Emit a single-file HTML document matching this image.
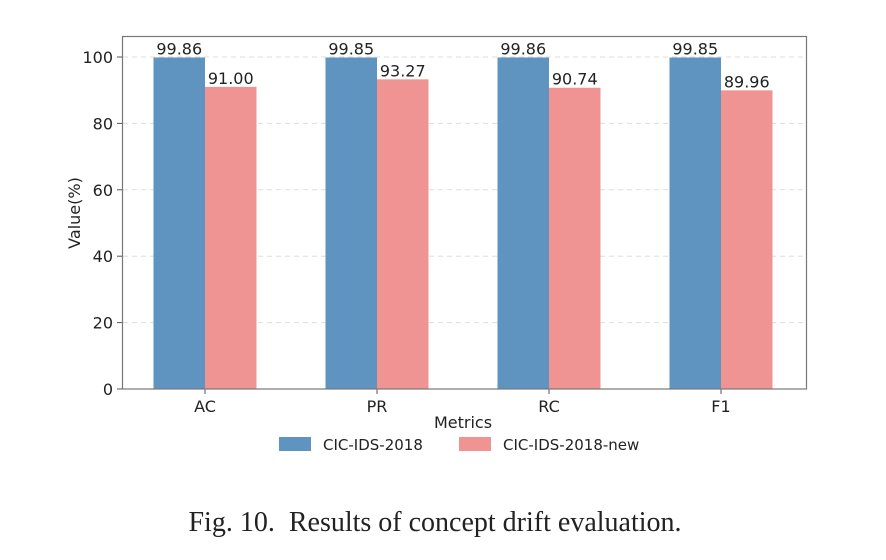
<!DOCTYPE html>
<html><head><meta charset="utf-8"><style>
body{margin:0;background:#fff;width:886px;height:555px;overflow:hidden}
svg text{font-family:"DejaVu Sans","Liberation Sans",sans-serif;fill:#222}
</style></head><body>
<svg id="chart" width="886" height="555">
<g id="grid"></g><g id="bars"></g><g id="labels"></g>
<rect x="122.5" y="36.5" width="684" height="352.5" fill="none" stroke="#777" stroke-width="1.2"/>
<text x="463" y="428" font-size="16" text-anchor="middle">Metrics</text>
<text transform="translate(80,213) rotate(-90)" font-size="16" text-anchor="middle">Value(%)</text>
<rect x="279" y="437" width="32" height="14" fill="#5f93c0"/>
<text x="323" y="450" font-size="15">CIC-IDS-2018</text>
<rect x="459" y="437" width="32" height="14" fill="#f09393"/>
<text x="503" y="450" font-size="15">CIC-IDS-2018-new</text>
<text x="435" y="531" font-size="28" text-anchor="middle" style="font-family:'Liberation Serif',serif;white-space:pre">Fig. 10.  Results of concept drift evaluation.</text>
</svg>
<script>
const categories=["AC","PR","RC","F1"];
const series2018=[99.86,99.85,99.86,99.85];
const seriesNew=[91.00,93.27,90.74,89.96];
const yTicks=[0,20,40,60,80,100];
const NS="http://www.w3.org/2000/svg";
const y=v=>389-v*3.32;
const cx=i=>205+i*172;
const bw=51.5;
function mk(tag,attrs,parent){const e=document.createElementNS(NS,tag);for(const k in attrs)e.setAttribute(k,attrs[k]);document.getElementById(parent).appendChild(e);return e;}
yTicks.forEach(t=>{
 if(t>0){const g=mk('line',{x1:123,x2:806,y1:y(t),y2:y(t),stroke:'#ddd','stroke-dasharray':'5,4'},'grid');
 
 }
 const tk=mk('line',{x1:117,x2:122,y1:y(t),y2:y(t),stroke:'#555'},'grid');
 
 
 const l=mk('text',{x:113,y:y(t)+6,'font-size':16,'text-anchor':'end'},'labels');l.textContent=t;
 
 
});
categories.forEach((c,i)=>{
 const b1=mk('rect',{x:cx(i)-bw,y:y(series2018[i]),width:bw,height:389-y(series2018[i]),fill:'#5f93c0'},'bars');
 
 
 const b2=mk('rect',{x:cx(i),y:y(seriesNew[i]),width:bw,height:389-y(seriesNew[i]),fill:'#f09393'},'bars');
 
 
 const v1=mk('text',{x:cx(i)-bw/2,y:y(series2018[i])-3,'font-size':16,'text-anchor':'middle'},'labels');v1.textContent=series2018[i].toFixed(2);
 
 
 const v2=mk('text',{x:cx(i)+bw/2,y:y(seriesNew[i])-3,'font-size':16,'text-anchor':'middle'},'labels');v2.textContent=seriesNew[i].toFixed(2);
 
 
 const tk=mk('line',{x1:cx(i),x2:cx(i),y1:389,y2:394,stroke:'#555'},'labels');
 
 
 const l=mk('text',{x:cx(i),y:412,'font-size':16,'text-anchor':'middle'},'labels');l.textContent=c;
 
 
});
</script>
</body></html>
